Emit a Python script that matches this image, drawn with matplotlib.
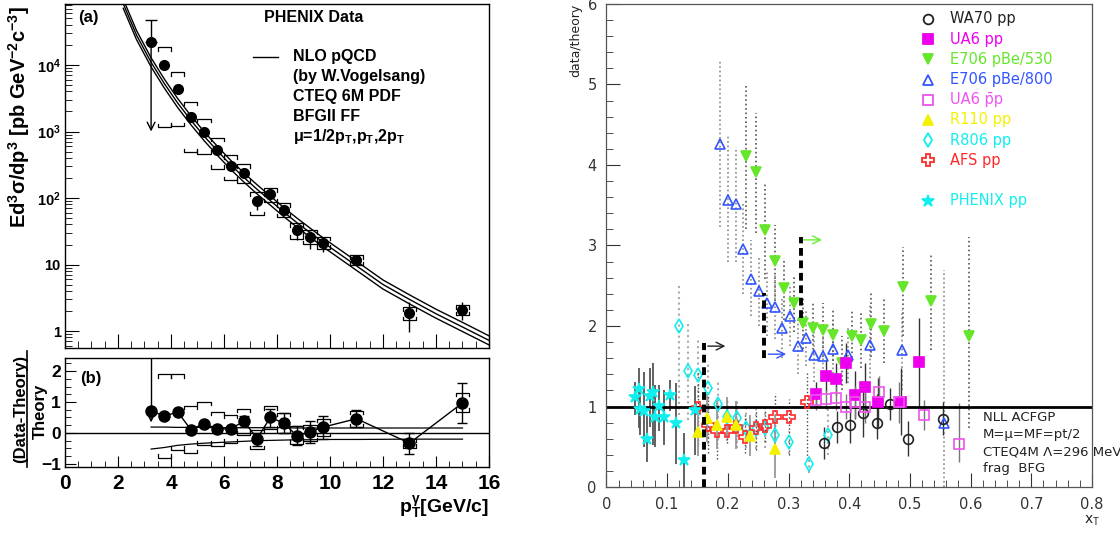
import numpy as np
import matplotlib
matplotlib.use("Agg")
import matplotlib.pyplot as plt
from matplotlib.ticker import MultipleLocator, FixedLocator, FixedFormatter, LogLocator, NullFormatter
from matplotlib.lines import Line2D

plt.rcParams['font.family'] = ['Liberation Sans', 'DejaVu Sans']
plt.rcParams['mathtext.fontset'] = 'custom'
plt.rcParams['mathtext.rm'] = 'Liberation Sans'
plt.rcParams['mathtext.bf'] = 'Liberation Sans:bold'
plt.rcParams['mathtext.it'] = 'Liberation Sans:italic'
plt.rcParams['mathtext.default'] = 'bf'

# ---- left panel: PHENIX direct photon cross section ----
pt = [3.25, 3.75, 4.25, 4.75, 5.25, 5.75, 6.25, 6.75, 7.25, 7.75, 8.25, 8.75, 9.25, 9.75, 11.0, 13.0, 15.0]
xsec = [22400, 10000, 4370, 1640, 980, 520, 302, 240, 89, 113, 67, 33, 26, 21.4, 11.6, 1.84, 2.07]
stat_hi = [47000, 10400, 4550, 1700, 1020, 540, 315, 250, 103, 118, 70, 40, 32, 25.5, 12.2, 2.75, 2.75]
stat_lo = [1000, 9600, 4200, 1580, 940, 500, 290, 230, 65, 108, 64, 23.7, 17.4, 15.5, 11.0, 0.98, 1.46]
sys_hi = [np.nan, 18400, 7760, 2820, 1550, 804, 437, 320, 123, 141, 84, 42, 32.7, 26, 13.8, 2.26, 2.45]
sys_lo = [np.nan, 1160, 1190, 490, 462, 275, 184, 168, 55, 87, 51, 24.5, 20.2, 17.4, 9.8, 1.46, 1.74]

nlo_pt = [2.2, 2.7, 3.25, 3.75, 4.25, 4.75, 5.25, 5.75, 6.25, 6.75, 7.25, 7.75, 8.25, 8.75, 9.25, 9.75, 11, 12, 13, 14, 15, 16]
nlo_mid = [83180, 28180, 10960, 5250, 2690, 1480, 851, 513, 316, 204, 135, 91.2, 61.7, 42.7, 30.2, 21.4, 9.55, 5.01, 2.99, 1.82, 1.15, 0.724]
nlo_hi = [97300, 33000, 12800, 6140, 3150, 1730, 996, 600, 370, 239, 158, 107, 72.2, 50.0, 35.3, 25.0, 11.2, 5.86, 3.50, 2.13, 1.35, 0.847]
nlo_lo = [71100, 24100, 9370, 4490, 2300, 1265, 728, 439, 270, 174, 115, 78.0, 52.8, 36.5, 25.8, 18.3, 8.17, 4.28, 2.56, 1.56, 0.983, 0.619]

ratio = [0.72, 0.54, 0.68, 0.11, 0.30, 0.13, 0.13, 0.38, -0.18, 0.50, 0.32, -0.09, 0.03, 0.19, 0.46, -0.33, 0.97]
r_stat_hi = [2.6, 0.60, 0.74, 0.17, 0.36, 0.19, 0.19, 0.56, 0.0, 0.78, 0.65, 0.24, 0.38, 0.56, 0.73, 0.0, 1.61]
r_stat_lo = [0.34, 0.48, 0.62, 0.05, 0.24, 0.07, 0.07, 0.19, -0.41, 0.19, 0.0, -0.38, -0.32, -0.19, 0.19, -0.67, 0.32]
r_sys_hi = [np.nan, 1.9, 1.9, 0.88, 1.0, 0.68, 0.58, 0.78, 0.1, 0.86, 0.65, 0.24, 0.27, 0.46, 0.72, -0.19, 1.29]
r_sys_lo = [np.nan, -0.8, -0.54, -0.65, -0.38, -0.41, -0.32, -0.05, -0.52, 0.13, 0.0, -0.35, -0.27, -0.1, 0.19, -0.48, 0.68]
scale_hi = [0.19, 0.19, 0.18, 0.18, 0.18, 0.17, 0.17, 0.17, 0.17, 0.17, 0.17, 0.16, 0.16, 0.16, 0.16, 0.16, 0.16]
scale_lo = [-0.52, -0.47, -0.40, -0.36, -0.33, -0.31, -0.29, -0.27, -0.25, -0.24, -0.23, -0.22, -0.22, -0.21, -0.21, -0.20, -0.20]

logy_ticks = [1, 10, 100, 1000, 10000]
logy_labels = ["1", "10", "10$^{2}$", "10$^{3}$", "10$^{4}$"]
nlo_text = ["NLO pQCD", "(by W.Vogelsang)", "CTEQ 6M PDF", "BFGII FF",
            r"$\mu$=1/2p$_{T}$,p$_{T}$,2p$_{T}$"]

# ---- right panel: world data / NLL theory vs xT ----
wa70_x = [0.358, 0.380, 0.401, 0.423, 0.446, 0.467, 0.497, 0.554]
wa70_y = [0.55, 0.75, 0.77, 0.92, 0.80, 1.03, 0.60, 0.85]
wa70_eu = [0.2, 0.2, 0.22, 0.3, 0.35, 0.2, 0.22, 0.2]
wa70_ed = [0.2, 0.2, 0.22, 0.3, 0.2, 0.2, 0.22, 0.2]

ua6_x = [0.345, 0.361, 0.378, 0.395, 0.409, 0.426, 0.448, 0.485, 0.515]
ua6_y = [1.16, 1.38, 1.34, 1.54, 1.14, 1.24, 1.05, 1.06, 1.55]
ua6_eu = [0.15, 0.2, 0.2, 0.25, 0.3, 0.3, 0.3, 0.42, 0.55]
ua6_ed = [0.15, 0.2, 0.2, 0.25, 0.3, 0.3, 0.3, 0.42, 0.55]

e530_x = [0.230, 0.246, 0.262, 0.278, 0.293, 0.309, 0.324, 0.341, 0.356, 0.373, 0.388, 0.404,
          0.419, 0.436, 0.458, 0.489, 0.534, 0.598]
e530_y = [4.11, 3.91, 3.19, 2.81, 2.47, 2.28, 2.04, 1.98, 1.95, 1.89, 1.54, 1.88, 1.83, 2.02,
          1.94, 2.48, 2.31, 1.88]
e530_eu = [0.88, 0.73, 0.57, 0.44, 0.37, 0.35, 0.33, 0.33, 0.33, 0.33, 0.33, 0.33, 0.35, 0.4,
           0.4, 0.5, 0.58, 1.23]
e530_ed = [0.9, 0.75, 0.6, 0.5, 0.4, 0.35, 0.33, 0.33, 0.33, 0.33, 0.33, 0.33, 0.35, 0.4,
           0.4, 0.6, 0.61, 1.15]

e800_x = [0.187, 0.201, 0.213, 0.225, 0.238, 0.251, 0.265, 0.278, 0.290, 0.303, 0.316, 0.329,
          0.342, 0.356, 0.374, 0.398, 0.435, 0.487, 0.556]
e800_y = [4.26, 3.57, 3.52, 2.96, 2.59, 2.44, 2.28, 2.24, 1.98, 2.13, 1.75, 1.855, 1.64, 1.63,
          1.71, 1.64, 1.76, 1.70, 0.79]
e800_eu = [1.05, 0.8, 0.7, 0.56, 0.48, 0.42, 0.4, 0.4, 0.38, 0.38, 0.35, 0.35, 0.33, 0.33,
           0.35, 0.35, 0.5, 0.5, 1.9]
e800_ed = [1.03, 0.78, 0.72, 0.56, 0.47, 0.44, 0.4, 0.4, 0.38, 0.38, 0.35, 0.35, 0.33, 0.33,
           0.35, 0.35, 0.4, 0.5, 0.79]

ua6b_x = [0.345, 0.361, 0.378, 0.394, 0.409, 0.426, 0.449, 0.482, 0.523, 0.581]
ua6b_y = [1.08, 1.09, 1.11, 1.00, 1.06, 0.99, 1.18, 1.05, 0.90, 0.54]
ua6b_eu = [0.12, 0.12, 0.15, 0.15, 0.2, 0.2, 0.2, 0.25, 0.18, 0.5]
ua6b_ed = [0.12, 0.12, 0.15, 0.15, 0.2, 0.2, 0.2, 0.25, 0.19, 0.23]

r110_x = [0.150, 0.166, 0.182, 0.198, 0.214, 0.236, 0.278]
r110_y = [0.68, 0.86, 0.77, 0.87, 0.77, 0.63, 0.47]
r110_eu = [0.3, 0.3, 0.3, 0.25, 0.3, 0.26, 0.42]
r110_ed = [0.3, 0.3, 0.3, 0.25, 0.3, 0.25, 0.36]

r806_x = [0.119, 0.135, 0.151, 0.167, 0.183, 0.198, 0.2145, 0.230, 0.246, 0.262, 0.278, 0.301, 0.334, 0.365]
r806_y = [2.0, 1.44, 1.39, 1.23, 1.03, 0.87, 0.86, 0.73, 0.72, 0.73, 0.646, 0.555, 0.28, 0.64]
r806_eu = [0.53, 0.61, 0.46, 0.33, 0.30, 0.25, 0.23, 0.25, 0.25, 0.25, 0.25, 0.14, 0.11, 0.36]
r806_ed = [1.11, 0.61, 0.97, 0.69, 0.45, 0.30, 0.37, 0.25, 0.25, 0.25, 0.25, 0.15, 0.11, 0.24]

afs_x = [0.151, 0.167, 0.182, 0.198, 0.213, 0.229, 0.246, 0.261, 0.277, 0.300, 0.330]
afs_y = [0.98, 0.77, 0.70, 0.70, 0.75, 0.625, 0.73, 0.76, 0.87, 0.87, 1.05]
afs_eu = [0.45, 0.40, 0.35, 0.39, 0.33, 0.3, 0.21, 0.2, 0.3, 0.22, 0.36]
afs_ed = [0.45, 0.35, 0.35, 0.15, 0.2, 0.2, 0.27, 0.2, 0.3, 0.47, 0.7]

phx_x = [0.047, 0.053, 0.056, 0.061, 0.067, 0.071, 0.076, 0.080, 0.087, 0.095, 0.105, 0.114, 0.128, 0.146]
phx_y = [1.12, 1.22, 0.97, 0.95, 0.60, 1.13, 1.18, 0.87, 1.01, 0.87, 1.14, 0.79, 0.33, 0.96]
phx_eu = [0.19, 0.26, 0.28, 0.48, 0.31, 0.35, 0.36, 0.40, 0.26, 0.33, 0.19, 0.50, 0.34, 0.29]
phx_ed = [0.23, 0.49, 0.32, 0.45, 0.29, 0.38, 0.66, 0.37, 0.32, 0.35, 0.20, 0.50, 0.35, 0.56]

# kinematic cut lines with arrows
cut_x = [0.160, 0.2595, 0.3204]
cut_lo = [0.0, 1.60, 2.10]
cut_hi = [1.79, 2.41, 3.11]
arrow_x0 = [0.167, 0.2666, 0.325]
arrow_x1 = [0.196, 0.296, 0.355]
arrow_y = [1.75, 1.65, 3.07]
arrow_col = ['#222222', '#3355ff', '#66ee33']

nll_text = ["NLL ACFGP", "M=\u03bc=MF=pt/2", "CTEQ4M \u039b=296 MeV", "frag  BFG"]

GREEN, BLUE, MAG, MAG2 = '#66e62a', '#3355ff', '#ee00ee', '#ee55ee'
YEL, CYAN, RED = '#f2f200', '#11eeee', '#ff2a2a'

# name, x, y, eu, ed, marker, colour, filled, ms, err colour, err style, err lw
series = [
    ("E706 pBe/800", e800_x, e800_y, e800_eu, e800_ed, '^', BLUE, False, 7, '#888888', ':', 1.2),
    ("E706 pBe/530", e530_x, e530_y, e530_eu, e530_ed, 'v', GREEN, True, 7, '#555555', ':', 1.2),
    ("R806 pp", r806_x, r806_y, r806_eu, r806_ed, 'd', CYAN, False, 7, '#aaaaaa', ':', 1.5),
    ("AFS pp", afs_x, afs_y, afs_eu, afs_ed, 'P', RED, False, 8, '#444444', ':', 1.0),
    ("R110 pp", r110_x, r110_y, r110_eu, r110_ed, '^', YEL, True, 7, '#999999', '-', 1.3),
    ("WA70 pp", wa70_x, wa70_y, wa70_eu, wa70_ed, 'o', '#222222', False, 7, '#333333', '-', 1.0),
    ("UA6 pp", ua6_x, ua6_y, ua6_eu, ua6_ed, 's', MAG, True, 6.5, '#333333', '-', 1.0),
    ("UA6 p\u0304p", ua6b_x, ua6b_y, ua6b_eu, ua6b_ed, 's', MAG2, False, 6.5, '#777777', '-', 1.0),
    ("PHENIX pp", phx_x, phx_y, phx_eu, phx_ed, '*', CYAN, True, 9, '#555555', '-', 1.3),
]
legend_order = ["WA70 pp", "UA6 pp", "E706 pBe/530", "E706 pBe/800", "UA6 p\u0304p",
                "R110 pp", "R806 pp", "AFS pp", None, "PHENIX pp"]

fig = plt.figure(figsize=(11.2, 5.33), dpi=100)
ax_a = fig.add_axes([0.058, 0.347, 0.3786, 0.6455])
ax_b = fig.add_axes([0.058, 0.1238, 0.3786, 0.2045])
ax_r = fig.add_axes([0.5415, 0.0863, 0.4335, 0.9062])


def brackets(ax, xs, tops, bots, half, tick, log):
    for x, t, b in zip(xs, tops, bots):
        if np.isnan(t):
            continue
        t2, b2 = (t / tick, b * tick) if log else (t - tick, b + tick)
        ax.plot([x - half, x - half, x + half, x + half], [t2, t, t, t2], color='black', lw=0.9)
        ax.plot([x - half, x - half, x + half, x + half], [b2, b, b, b2], color='black', lw=0.9)


# ---- (a) ----
for curve in (nlo_hi, nlo_mid, nlo_lo):
    ax_a.plot(nlo_pt, curve, color='black', lw=1.0)
xs = np.array(xsec)
err = [xs - np.array(stat_lo), np.array(stat_hi) - xs]
ax_a.errorbar(pt[1:], xs[1:], yerr=[err[0][1:], err[1][1:]], fmt='o', color='black', ms=7,
              elinewidth=1, capsize=0, zorder=4)
ax_a.errorbar(pt[:1], xs[:1], yerr=[[0], [err[1][0]]], fmt='o', color='black', ms=7,
              elinewidth=1, capsize=4, zorder=4)
ax_a.annotate('', xy=(pt[0], stat_lo[0]), xytext=(pt[0], xsec[0]),
              arrowprops=dict(arrowstyle='->', lw=1, color='black', shrinkA=0, shrinkB=0,
                              mutation_scale=14))
brackets(ax_a, pt, sys_hi, sys_lo, 0.25, 1.13, True)

ax_a.set_yscale('log')
ax_a.set_xlim(0, 16)
ax_a.set_ylim(0.555, 82600)
ax_a.yaxis.set_major_locator(FixedLocator(logy_ticks))
ax_a.yaxis.set_major_formatter(FixedFormatter(logy_labels))
ax_a.yaxis.set_minor_locator(LogLocator(subs=np.arange(2, 10)))
ax_a.yaxis.set_minor_formatter(NullFormatter())
ax_a.xaxis.set_major_locator(MultipleLocator(2))
ax_a.xaxis.set_minor_locator(MultipleLocator(0.5))
ax_a.tick_params(which='both', direction='in', top=False, right=False, labelbottom=False)
ax_a.tick_params(which='major', length=10, labelsize=10.5, pad=3)
ax_a.tick_params(which='minor', length=5)
for lab in ax_a.get_yticklabels():
    lab.set_fontweight('bold')

ax_a.text(0.03, 0.962, "(a)", transform=ax_a.transAxes, fontsize=12, fontweight='bold', va='center')
ax_a.text(0.47, 0.962, "PHENIX Data", transform=ax_a.transAxes, fontsize=11.5, fontweight='bold',
          va='center')
ax_a.add_line(Line2D([0.443, 0.502], [0.846, 0.846], transform=ax_a.transAxes, color='black', lw=1))
for i, t in enumerate(nlo_text):
    ax_a.text(0.538, 0.846 - i * 0.0575, t, transform=ax_a.transAxes, fontsize=11.5,
              fontweight='bold', va='center')
fig.text(0.017, 0.78, r"Ed$^{3}\sigma$/dp$^{3}$ [pb GeV$^{-2}$c$^{-3}$]", rotation=90,
         fontsize=14.5, fontweight='bold', ha='center', va='center')

# ---- (b) ----
ax_b.axhline(0, color='black', lw=1)
ax_b.plot(pt, scale_hi, color='black', lw=0.9)
ax_b.plot(pt, scale_lo, color='black', lw=0.9)
ax_b.plot(pt, ratio, color='black', lw=1)
rt = np.array(ratio)
rerr = [rt - np.array(r_stat_lo), np.array(r_stat_hi) - rt]
ax_b.errorbar(pt[1:], rt[1:], yerr=[rerr[0][1:], rerr[1][1:]], fmt='o', color='black', ms=8,
              elinewidth=1, capsize=3.5, zorder=4)
ax_b.errorbar(pt[:1], rt[:1], yerr=[[0], [rerr[1][0]]], fmt='o', color='black', ms=8,
              elinewidth=1, capsize=0, zorder=4)
ax_b.annotate('', xy=(pt[0], r_stat_lo[0]), xytext=(pt[0], ratio[0]),
              arrowprops=dict(arrowstyle='->', lw=1, color='black', shrinkA=0, shrinkB=0,
                              mutation_scale=12))
brackets(ax_b, pt, r_sys_hi, r_sys_lo, 0.25, 0.11, False)
ax_b.set_xlim(0, 16)
ax_b.set_ylim(-1.1, 2.42)
ax_b.set_yticks([-1, 0, 1, 2])
ax_b.yaxis.set_minor_locator(MultipleLocator(0.25))
ax_b.xaxis.set_major_locator(MultipleLocator(2))
ax_b.xaxis.set_minor_locator(MultipleLocator(0.5))
ax_b.tick_params(which='both', direction='in', top=False, right=False)
ax_b.tick_params(which='major', length=8, pad=5)
ax_b.tick_params(which='minor', length=4)
ax_b.tick_params(axis='x', labelsize=15)
ax_b.tick_params(axis='y', labelsize=12.5, pad=3)
for lab in ax_b.get_xticklabels() + ax_b.get_yticklabels():
    lab.set_fontweight('bold')
ax_b.text(0.035, 0.81, "(b)", transform=ax_b.transAxes, fontsize=12, fontweight='bold', va='center')
fig.text(0.018, 0.233, "(Data-Theory)", rotation=90, fontsize=12, fontweight='bold',
         ha='center', va='center')
fig.add_artist(Line2D([0.0245, 0.0245], [0.124, 0.342], color='black', lw=1.2))
fig.text(0.036, 0.229, "Theory", rotation=90, fontsize=12, fontweight='bold',
         ha='center', va='center')
fig.text(0.4366, 0.049, r"p$_{T}^{\gamma}$[GeV/c]", fontsize=14, fontweight='bold',
         ha='right', va='center')

for ax in (ax_a, ax_b):
    for s in ax.spines.values():
        s.set_linewidth(1.0)

# ---- right panel ----
ax_r.axhline(1, color='black', lw=2, zorder=2.5)
for name, x, y, eu, ed, mk, col, filled, ms, ecol, els, elw in series:
    y = np.array(y)
    ax_r.vlines(x, y - np.array(ed), y + np.array(eu), colors=ecol, linestyles=els, lw=elw, zorder=2)
    ax_r.plot(x, y, ls='none', marker=mk, ms=ms, mfc=col if filled else 'none', mec=col,
              mew=1.2, zorder=3)
ax_r.vlines(cut_x, cut_lo, cut_hi, colors='black', linestyles=(0, (2, 1.2)), lw=2.8, zorder=4)
for x0, x1, ya, c in zip(arrow_x0, arrow_x1, arrow_y, arrow_col):
    ax_r.annotate('', xy=(x1, ya), xytext=(x0, ya),
                  arrowprops=dict(arrowstyle='->', lw=1, color=c, shrinkA=0, shrinkB=0,
                                  mutation_scale=14))

ax_r.set_xlim(0, 0.8)
ax_r.set_ylim(0, 6)
ax_r.xaxis.set_major_locator(MultipleLocator(0.1))
ax_r.xaxis.set_minor_locator(MultipleLocator(0.02))
ax_r.yaxis.set_major_locator(MultipleLocator(1))
ax_r.yaxis.set_minor_locator(MultipleLocator(0.2))
ax_r.xaxis.set_major_formatter(matplotlib.ticker.FuncFormatter(lambda v, p: "0" if v == 0 else f"{v:.1f}"))
ax_r.tick_params(which='both', direction='in', top=False, right=False, colors='#333333',
                 labelcolor='#333333', labelsize=10.5)
ax_r.tick_params(which='major', length=10, pad=7)
ax_r.tick_params(which='minor', length=5)
for lab in ax_r.get_xticklabels() + ax_r.get_yticklabels():
    lab.set_family('DejaVu Sans')
for s in ax_r.spines.values():
    s.set_color('#555555')
    s.set_linewidth(0.9)

lookup = {s[0]: s for s in series}
for i, name in enumerate(legend_order):
    if name is None:
        continue
    _, _, _, _, _, mk, col, filled, ms, _, _, _ = lookup[name]
    yy = 0.969 - i * 0.0418
    ax_r.plot([0.662], [yy], transform=ax_r.transAxes, ls='none', marker=mk, ms=ms,
              mfc=col if filled else 'none', mec=col, mew=1.3, clip_on=False)
    ax_r.text(0.7075, yy, name, transform=ax_r.transAxes, color=col, fontsize=10.5,
              family='DejaVu Sans', va='center')

for i, t in enumerate(nll_text):
    ax_r.text(0.62, 0.86 - i * 0.21, t, fontsize=9.5, family='DejaVu Sans', color='#222222',
              va='center')

fig.text(0.514, 0.9925, "data/theory", rotation=90, fontsize=9, family='DejaVu Sans',
         color='#222222', ha='center', va='top')
fig.text(0.982, 0.0225, r"x$_{\mathrm{T}}$", fontsize=10, family='DejaVu Sans', color='#222222',
         ha='right', va='center')

fig.savefig("out.png", dpi=100)
